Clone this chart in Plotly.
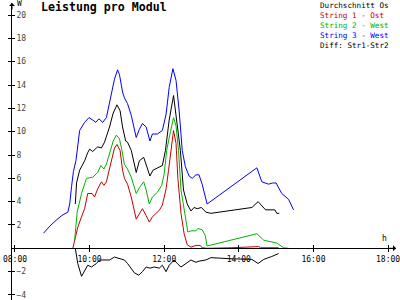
import plotly.graph_objects as go

# ---------------- data ----------------
names = ["Durchschnitt Os", "String 1 - Ost", "String 2 - West", "String 3 - West", "Diff: Str1-Str2"]
colors = ["#000000", "#C80000", "#00B400", "#0000FF", "#000000"]

avg_t = ["09:37","09:39","09:44","09:52","09:57","10:00","10:05","10:13","10:19","10:24","10:32","10:38",
         "10:44","10:49","10:53","10:58","11:01","11:07","11:15","11:20","11:27","11:31","11:37","11:42",
         "11:49","11:57","12:02","12:08","12:15","12:21","12:26","12:31","12:37","12:43","12:48","12:53",
         "13:00","13:07","13:15","14:21","14:31","14:43","14:58","15:01","15:05"]
avg_v = [3.8,5.6,6.7,7.5,8.2,8.5,8.3,8.7,8.6,9.1,10.4,11.6,
         12.3,11.8,10.4,9.2,9.1,8.4,6.5,7.5,7.8,7.1,6.2,6.7,
         6.9,7.1,8.4,11.0,13.1,10.4,8.4,5.0,3.8,3.2,3.5,3.4,
         3.5,3.1,3.0,3.5,4.0,3.3,3.3,3.0,3.0]

s1_t = ["09:33","09:36","09:41","09:47","09:52","09:57","10:04","10:08","10:13","10:19","10:23","10:27",
        "10:32","10:40","10:44","10:49","10:53","10:56","11:01","11:07","11:15","11:20","11:25","11:31",
        "11:36","11:41","11:47","11:52","11:57","12:03","12:07","12:11","12:15","12:19","12:22","12:27",
        "12:32","12:37","12:43","12:51","12:58","13:01","13:09","13:49","14:27","14:32","14:35","15:04"]
s1_v = [0.0,0.7,1.8,2.7,3.4,4.7,4.7,4.4,5.1,5.7,5.4,5.7,
        6.8,8.6,8.9,8.4,6.7,6.0,5.5,4.4,2.5,3.0,3.4,2.8,
        2.25,2.7,3.0,3.25,3.7,5.1,6.7,8.4,10.1,9.0,6.0,3.0,
        1.25,0.3,0.1,0.25,0.25,0.05,0.0,0.05,0.15,0.15,0.05,0.05]

s2_t = ["09:36","09:40","09:47","09:55","10:05","10:13","10:18","10:23","10:27","10:32","10:38","10:43",
        "10:48","10:52","10:56","11:01","11:07","11:15","11:20","11:27","11:31","11:36","11:41","11:49",
        "11:56","12:00","12:04","12:10","12:15","12:19","12:23","12:27","12:35","12:38","12:43","12:51",
        "12:54","13:01","13:06","13:09","14:29","14:40","15:01","15:12","15:20"]
s2_v = [0.7,3.1,4.7,6.0,6.1,6.5,7.1,6.8,7.2,8.2,9.2,9.7,
        9.4,8.4,7.2,6.8,6.1,4.7,5.2,5.7,5.0,3.8,4.4,4.8,
        5.4,6.4,8.4,10.0,11.2,10.5,8.4,5.0,2.4,1.4,1.5,1.5,
        1.7,1.6,1.1,0.2,1.25,0.7,0.45,0.05,0.0]

s3_t = ["08:46","08:56","09:06","09:15","09:25","09:28","09:31","09:34","09:38","09:41","09:44","09:52",
        "09:59","10:05","10:10","10:15","10:21","10:27","10:35","10:40","10:45","10:48","10:53","10:56",
        "11:01","11:07","11:15","11:20","11:25","11:31","11:37","11:41","11:49","11:57","12:03","12:08",
        "12:14","12:19","12:24","12:29","12:34","12:40","12:45","12:51","12:56","13:01","13:09","14:29",
        "14:37","14:48","14:54","15:00","15:09","15:20","15:28"]
s3_v = [1.3,1.9,2.4,2.8,3.1,3.8,5.3,6.6,7.5,9.0,10.1,10.8,
        11.2,11.0,10.8,11.1,10.8,11.2,13.2,14.5,15.3,14.9,13.4,12.9,
        12.4,11.4,9.5,10.2,10.7,10.4,9.2,9.8,9.8,10.1,11.5,13.8,
        15.4,14.4,11.8,8.4,7.0,6.2,6.0,6.3,6.3,5.5,3.8,6.9,
        5.7,5.5,5.6,5.6,4.7,4.2,3.3]

diff_t = ["09:37","09:41","09:47","09:52","09:57","10:03","10:11","10:16","10:32","10:40","10:48","10:56",
          "11:01","11:07","11:12","11:19","11:25","11:31","11:37","11:44","11:52","11:57","12:03","12:08",
          "12:16","12:21","12:27","12:35","12:43","12:51","12:56","13:07","13:15","13:49","14:21","14:31",
          "14:40","14:53","15:04"]
diff_v = [0.0,-1.3,-2.4,-1.9,-1.45,-1.6,-1.3,-1.0,-1.0,-0.75,-0.9,-1.0,
          -1.3,-1.7,-2.1,-2.3,-2.0,-1.6,-1.7,-1.6,-1.7,-1.45,-2.0,-1.45,
          -1.0,-1.3,-1.6,-1.3,-1.0,-1.2,-1.1,-1.0,-0.8,-0.9,-0.95,-1.3,
          -0.95,-0.7,-0.45]

x_tickvals = [8, 10, 12, 14, 16, 18]
x_ticktext = ["08:00", "10:00", "12:00", "14:00", "16:00", "18:00"]
y_tickvals = [-4, -2, 2, 4, 6, 8, 10, 12, 14, 16, 18, 20]
title_text = "Leistung pro Modul"

# ---------------- helpers ----------------
def hours(ts):
    return [int(t[:2]) + int(t[3:]) / 60 for t in ts]

X0, X1 = 7.92, 18.213
Y0, Y1 = -4.43, 21.03
FONT = "DejaVu Sans Mono"

fig = go.Figure()
series = [(avg_t, avg_v, colors[0]), (s1_t, s1_v, colors[1]), (s2_t, s2_v, colors[2]),
          (s3_t, s3_v, colors[3]), (diff_t, diff_v, colors[4])]
for (t, v, c), n in zip(series, names):
    fig.add_trace(go.Scatter(x=hours(t), y=v, mode="lines", name=n,
                             line=dict(color=c, width=1), showlegend=False))

pos0 = (0 - Y0) / (Y1 - Y0)

fig.update_layout(
    width=400, height=300,
    margin=dict(l=12, r=2, t=3, b=0),
    paper_bgcolor="white", plot_bgcolor="white",
    font=dict(family=FONT, size=8, color="black"),
    xaxis=dict(range=[X0, X1], tickvals=x_tickvals, ticktext=x_ticktext,
               showgrid=False, zeroline=False, showline=True, linecolor="black", linewidth=1,
               ticks="outside", ticklen=3, tickcolor="black", anchor="free", position=pos0,
               ticklabeloverflow="allow",
               tickfont=dict(family=FONT, size=8), fixedrange=True),
    xaxis2=dict(range=[X0, X1], tickvals=x_tickvals, showticklabels=False, overlaying="x",
                side="top", anchor="free", position=pos0, showgrid=False, zeroline=False,
                ticks="outside", ticklen=3, tickcolor="black", showline=False),
    yaxis=dict(range=[Y0, Y1], tickvals=y_tickvals, showgrid=False, zeroline=False,
               showline=True, linecolor="black", linewidth=1, ticks="inside", ticklen=3,
               tickcolor="black", ticklabelposition="inside", ticklabeloverflow="allow",
               tickfont=dict(family=FONT, size=8)),
    yaxis2=dict(range=[Y0, Y1], tickvals=y_tickvals, showticklabels=False, overlaying="y",
                side="left", showgrid=False, zeroline=False, ticks="outside", ticklen=3,
                tickcolor="black", showline=False),
)
# invisible trace to activate the secondary (tick-only) axes
fig.add_trace(go.Scatter(x=[X0], y=[Y0], xaxis="x2", yaxis="y2", mode="markers",
                         marker=dict(opacity=0), showlegend=False, hoverinfo="skip"))

ann = []
ann.append(dict(text="<b>" + title_text + "</b>", xref="paper", yref="paper",
                x=(39 - 12) / 386, y=1 - (7 - 3) / 297, xanchor="left", yanchor="middle",
                showarrow=False, font=dict(family=FONT, size=11.6, color="black")))
legend_text = "<br>".join(f"<span style='color:{c}'>{n}</span>" for n, c in zip(names, colors))
ann.append(dict(text=legend_text, xref="paper", yref="paper", x=(321 - 12) / 386,
                y=1.0 + 3 / 297, xanchor="left", yanchor="top", align="left", borderpad=0,
                showarrow=False, font=dict(family=FONT, size=7.6)))
ann.append(dict(text="W", xref="paper", yref="paper", x=(15 - 12) / 386, y=1 - (4 - 3) / 297,
                xanchor="left", yanchor="middle", showarrow=False, font=dict(family=FONT, size=8)))
ann.append(dict(text="h", xref="x", yref="y", x=17.9, y=0.8, xanchor="center", yanchor="middle",
                showarrow=False, font=dict(family=FONT, size=8)))
# axis arrows
ann.append(dict(x=X1, y=0, xref="x", yref="y", ax=-8, ay=0, text="", showarrow=True,
                arrowhead=1, arrowsize=1, arrowwidth=1, arrowcolor="black"))
ann.append(dict(x=X0, y=Y1, xref="x", yref="y", ax=0, ay=8, text="", showarrow=True,
                arrowhead=1, arrowsize=1, arrowwidth=1, arrowcolor="black"))
fig.update_layout(annotations=ann)

fig.write_html("out.html")
